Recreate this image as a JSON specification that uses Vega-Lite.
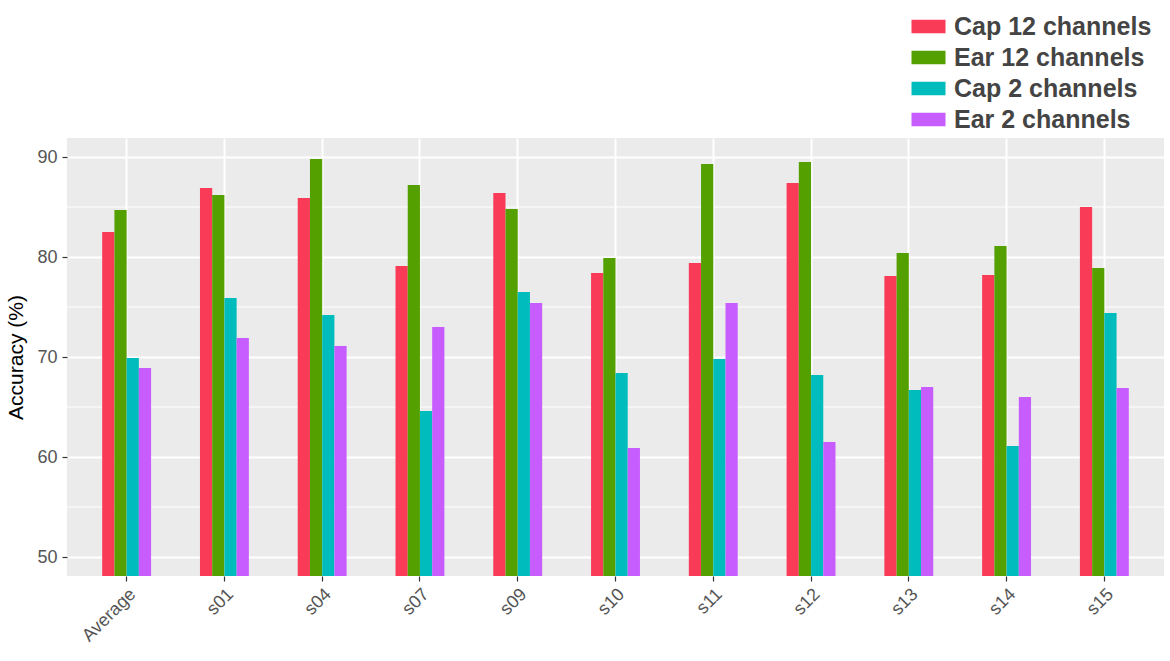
{
  "$schema": "https://vega.github.io/schema/vega-lite/v6.json",
  "width": 1097,
  "height": 438,
  "autosize": {"type": "none"},
  "padding": {"left": 67, "top": 138, "right": 6, "bottom": 85},
  "background": "white",
  "config": {
    "font": "Liberation Sans",
    "view": {"fill": "#EBEBEB", "stroke": null},
    "axisY": {
      "domain": false, "tickColor": "#333333", "tickSize": 5, "tickWidth": 1.2,
      "gridColor": "white", "gridWidth": 2, "gridOpacity": 1,
      "labelColor": "#555555", "labelFontSize": 18, "labelPadding": 5,
      "titleColor": "black", "titleFontSize": 21, "titleFontWeight": "normal", "titlePadding": 10
    },
    "axisX": {
      "domain": false, "tickColor": "#333333", "tickSize": 5, "tickWidth": 1.2,
      "gridColor": "white", "gridWidth": 2, "gridOpacity": 1,
      "labelColor": "#555555", "labelFontSize": 18, "labelPadding": 4
    }
  },
  "datasets": {
    "bars": [
      {"subject": "Average", "series": "Cap 12 channels", "acc": 82.5},
      {"subject": "Average", "series": "Ear 12 channels", "acc": 84.7},
      {"subject": "Average", "series": "Cap 2 channels", "acc": 69.9},
      {"subject": "Average", "series": "Ear 2 channels", "acc": 68.9},
      {"subject": "s01", "series": "Cap 12 channels", "acc": 86.9},
      {"subject": "s01", "series": "Ear 12 channels", "acc": 86.2},
      {"subject": "s01", "series": "Cap 2 channels", "acc": 75.9},
      {"subject": "s01", "series": "Ear 2 channels", "acc": 71.9},
      {"subject": "s04", "series": "Cap 12 channels", "acc": 85.9},
      {"subject": "s04", "series": "Ear 12 channels", "acc": 89.8},
      {"subject": "s04", "series": "Cap 2 channels", "acc": 74.2},
      {"subject": "s04", "series": "Ear 2 channels", "acc": 71.1},
      {"subject": "s07", "series": "Cap 12 channels", "acc": 79.1},
      {"subject": "s07", "series": "Ear 12 channels", "acc": 87.2},
      {"subject": "s07", "series": "Cap 2 channels", "acc": 64.6},
      {"subject": "s07", "series": "Ear 2 channels", "acc": 73.0},
      {"subject": "s09", "series": "Cap 12 channels", "acc": 86.4},
      {"subject": "s09", "series": "Ear 12 channels", "acc": 84.8},
      {"subject": "s09", "series": "Cap 2 channels", "acc": 76.5},
      {"subject": "s09", "series": "Ear 2 channels", "acc": 75.4},
      {"subject": "s10", "series": "Cap 12 channels", "acc": 78.4},
      {"subject": "s10", "series": "Ear 12 channels", "acc": 79.9},
      {"subject": "s10", "series": "Cap 2 channels", "acc": 68.4},
      {"subject": "s10", "series": "Ear 2 channels", "acc": 60.9},
      {"subject": "s11", "series": "Cap 12 channels", "acc": 79.4},
      {"subject": "s11", "series": "Ear 12 channels", "acc": 89.3},
      {"subject": "s11", "series": "Cap 2 channels", "acc": 69.8},
      {"subject": "s11", "series": "Ear 2 channels", "acc": 75.4},
      {"subject": "s12", "series": "Cap 12 channels", "acc": 87.4},
      {"subject": "s12", "series": "Ear 12 channels", "acc": 89.5},
      {"subject": "s12", "series": "Cap 2 channels", "acc": 68.2},
      {"subject": "s12", "series": "Ear 2 channels", "acc": 61.5},
      {"subject": "s13", "series": "Cap 12 channels", "acc": 78.1},
      {"subject": "s13", "series": "Ear 12 channels", "acc": 80.4},
      {"subject": "s13", "series": "Cap 2 channels", "acc": 66.7},
      {"subject": "s13", "series": "Ear 2 channels", "acc": 67.0},
      {"subject": "s14", "series": "Cap 12 channels", "acc": 78.2},
      {"subject": "s14", "series": "Ear 12 channels", "acc": 81.1},
      {"subject": "s14", "series": "Cap 2 channels", "acc": 61.1},
      {"subject": "s14", "series": "Ear 2 channels", "acc": 66.0},
      {"subject": "s15", "series": "Cap 12 channels", "acc": 85.0},
      {"subject": "s15", "series": "Ear 12 channels", "acc": 78.9},
      {"subject": "s15", "series": "Cap 2 channels", "acc": 74.4},
      {"subject": "s15", "series": "Ear 2 channels", "acc": 66.9}
    ],
    "minor": [{"v": 55}, {"v": 65}, {"v": 75}, {"v": 85}]
  },
  "layer": [
    {
      "data": {"name": "minor"},
      "mark": {"type": "rule", "color": "white", "strokeWidth": 1},
      "encoding": {
        "y": {"field": "v", "type": "quantitative", "title": "Accuracy (%)",
              "scale": {"domain": [48.1, 91.9], "nice": false, "zero": false},
              "axis": {"values": [50, 60, 70, 80, 90], "grid": true}}
      }
    },
    {
      "data": {"name": "bars"},
      "mark": {"type": "bar", "clip": true},
      "encoding": {
        "x": {"field": "subject", "type": "nominal", "title": null, "sort": null,
              "scale": {"paddingInner": 0.5, "paddingOuter": 0.36},
              "axis": {"labelAngle": -45, "grid": true, "bandPosition": 0.5}},
        "xOffset": {"field": "series", "type": "nominal",
                    "sort": ["Cap 12 channels", "Ear 12 channels", "Cap 2 channels", "Ear 2 channels"],
                    "scale": {"paddingInner": 0, "paddingOuter": 0}},
        "y": {"field": "acc", "type": "quantitative", "title": "Accuracy (%)"},
        "color": {"field": "series", "type": "nominal",
                  "sort": ["Cap 12 channels", "Ear 12 channels", "Cap 2 channels", "Ear 2 channels"],
                  "scale": {"domain": ["Cap 12 channels", "Ear 12 channels", "Cap 2 channels", "Ear 2 channels"],
                            "range": ["#F93B57", "#54A000", "#00BCBC", "#C75CFF"]},
                  "legend": {"title": null, "orient": "none", "legendX": 849, "legendY": -124,
                             "padding": 0, "symbolType": "M-2.5,-1H2.5V1H-2.5Z", "symbolSize": 185,
                             "symbolStrokeWidth": 0, "symbolOpacity": 1,
                             "labelFontSize": 25, "labelFontWeight": "bold", "labelColor": "#444444",
                             "labelOffset": 13, "rowPadding": 5, "labelLimit": 400}}
      }
    },
    {
      "mark": {"type": "rule", "color": "black", "strokeWidth": 2},
      "encoding": {"y": {"datum": 57}}
    }
  ]
}
